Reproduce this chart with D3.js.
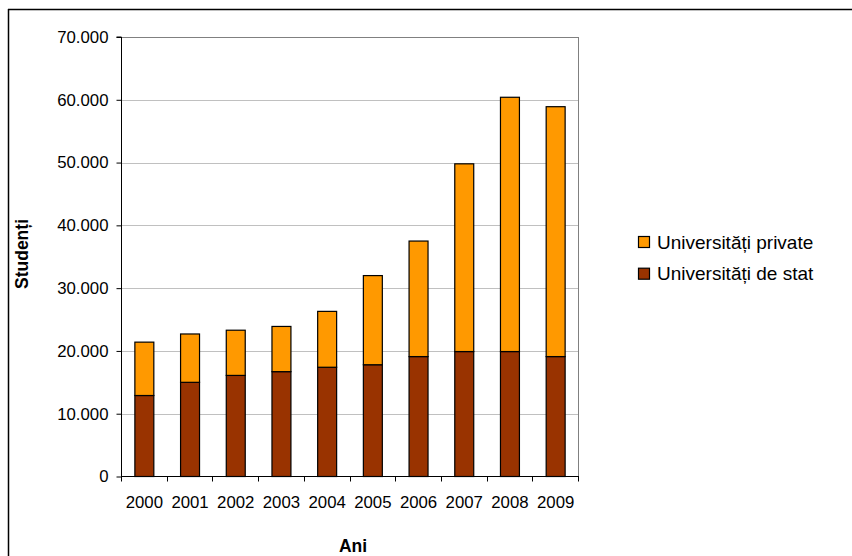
<!DOCTYPE html>
<html><head><meta charset="utf-8">
<script src="https://cdn.jsdelivr.net/npm/d3@7"></script>
<style>
html,body{margin:0;padding:0;background:#fff;}
svg{display:block;font-family:"Liberation Sans",Arial,sans-serif;}
</style></head>
<body>
<svg id="c" width="852" height="556"></svg>
<script>
const years = ["2000","2001","2002","2003","2004","2005","2006","2007","2008","2009"];
const stat = [12900, 15000, 16100, 16700, 17400, 17800, 19100, 19900, 19900, 19100];
const privat = [8500, 7700, 7200, 7200, 8900, 14200, 18400, 29900, 40500, 39800];
const yTicks = [0, 10000, 20000, 30000, 40000, 50000, 60000, 70000];
const seriesNames = ["Universități private", "Universități de stat"];
const colors = {stat: "#993300", privat: "#FF9900"};

const svg = d3.select("#c");
const L = 121, R = 578, T = 37, B = 476.5;

// outer frame
svg.append("line").attr("x1",8).attr("x2",852).attr("y1",9.5).attr("y2",9.5).attr("stroke","#000").attr("stroke-width",1.5);
svg.append("line").attr("x1",8.5).attr("x2",8.5).attr("y1",9).attr("y2",556).attr("stroke","#000").attr("stroke-width",1.5);

const data = years.map((y,i)=>({year:y, stat:stat[i], privat:privat[i]}));
const stack = d3.stack().keys(["stat","privat"])(data);

const x = d3.scaleBand().domain(years).range([L,R]).paddingInner(0.585).paddingOuter(0.2925);
const xb = d3.scaleBand().domain(years).range([L,R]).padding(0);
const y = d3.scaleLinear().domain([0,70000]).range([B,T]);

const loc = d3.formatLocale({decimal:",", thousands:".", grouping:[3], currency:["",""]});
const fmt = loc.format(",d");

// gridlines
svg.append("g").selectAll("line").data(yTicks.filter(d=>d>0 && d<70000)).join("line")
  .attr("x1",L).attr("x2",R).attr("y1",d=>Math.round(y(d))+0.5).attr("y2",d=>Math.round(y(d))+0.5)
  .attr("stroke","#c0c0c0").attr("stroke-width",1);
// plot border top & right (gray)
svg.append("line").attr("x1",L).attr("x2",R+0.5).attr("y1",T+0.5).attr("y2",T+0.5).attr("stroke","#808080");
svg.append("line").attr("x1",R+0.5).attr("x2",R+0.5).attr("y1",T).attr("y2",B).attr("stroke","#808080");

// bars
svg.append("g").selectAll("g").data(stack).join("g")
  .attr("fill",d=>colors[d.key])
  .selectAll("rect").data(d=>d).join("rect")
  .attr("x",d=>x(d.data.year)+0.5)
  .attr("width",x.bandwidth())
  .attr("y",d=>y(d[1]))
  .attr("height",d=>y(d[0])-y(d[1]))
  .attr("stroke","#000").attr("stroke-width",1.2);

// y axis
const yAxis = d3.axisLeft(y).tickValues(yTicks).tickFormat(fmt).tickSize(5).tickPadding(8);
const gy = svg.append("g").attr("transform",`translate(${L+0.5},0)`).call(yAxis);
gy.select(".domain").attr("stroke","#000").attr("d",`M-5,${T}H0V${B}`);
gy.selectAll(".tick line").attr("stroke","#000");
gy.selectAll("text").attr("font-size","16.8px").attr("fill","#000").attr("font-family","Liberation Sans, Arial, sans-serif");

// x axis
const gx = svg.append("g").attr("transform",`translate(0,${B})`);
gx.append("line").attr("x1",L).attr("x2",R+1).attr("y1",0).attr("y2",0).attr("stroke","#000");
const bounds = years.map(d=>xb(d)).concat([R]);
gx.selectAll("line.t").data(bounds).join("line").attr("class","t")
  .attr("x1",d=>Math.round(d)+0.5).attr("x2",d=>Math.round(d)+0.5).attr("y1",0).attr("y2",5).attr("stroke","#000");
gx.selectAll("text").data(years).join("text")
  .attr("x",d=>xb(d)+xb.bandwidth()/2+0.5).attr("y",31)
  .attr("text-anchor","middle").attr("font-size","16.8px").attr("fill","#000").text(d=>d);

// axis titles
svg.append("text").attr("transform","translate(28,254) rotate(-90)").attr("text-anchor","middle")
  .attr("font-size","17.5px").attr("font-weight","bold").text("Studenți");
svg.append("text").attr("x",353).attr("y",552).attr("text-anchor","middle")
  .attr("font-size","17.5px").attr("font-weight","bold").text("Ani");

// legend
const leg = svg.append("g");
const legItems = [{name:seriesNames[0], c:colors.privat},{name:seriesNames[1], c:colors.stat}];
const lg = leg.selectAll("g").data(legItems).join("g").attr("transform",(d,i)=>`translate(638,${236+i*31.7})`);
lg.append("rect").attr("x",0.5).attr("y",0.5).attr("width",11).attr("height",11).attr("fill",d=>d.c).attr("stroke","#000").attr("stroke-width",1.2);
lg.append("text").attr("x",19).attr("y",12.5).attr("font-size","19px").attr("fill","#000").text(d=>d.name);
</script>
</body></html>
